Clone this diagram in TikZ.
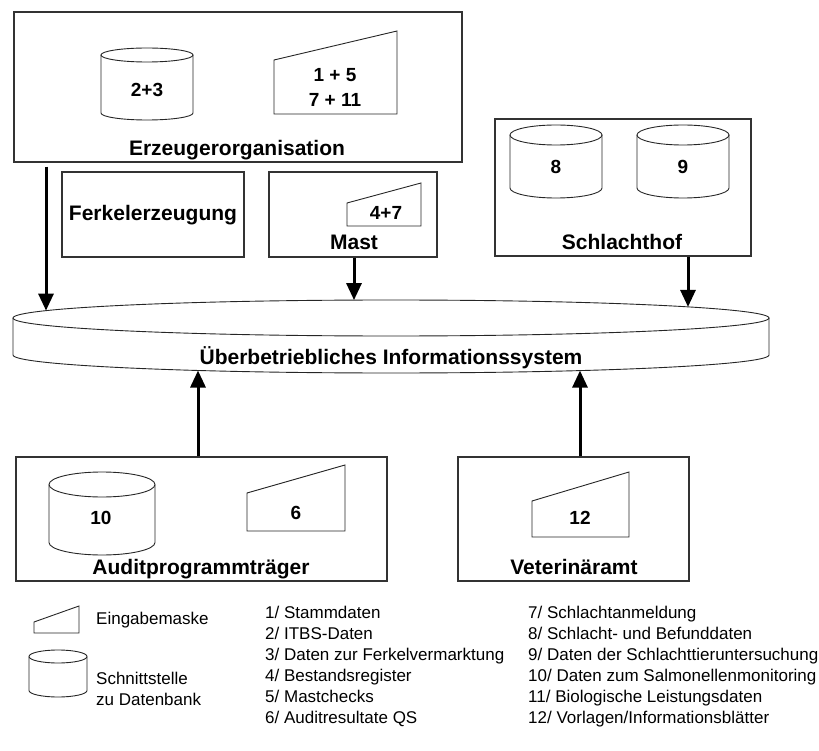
\documentclass[tikz,border=0pt]{standalone}
\usepackage{fontspec}
\setmainfont{Liberation Sans}
\usetikzlibrary{arrows.meta}
\tikzset{
  box/.style={draw=black!80, line width=1.2pt, rectangle, inner sep=0pt},
  shp/.style={draw=black!85, line width=0.9pt},
  lbl/.style={inner sep=0pt, text height=15pt, text depth=0pt, font=\fontsize{21}{25}\selectfont\bfseries},
  num/.style={inner sep=0pt, text height=13.6pt, text depth=0pt, align=center, font=\fontsize{19}{25}\selectfont\bfseries},
  leg/.style={inner sep=0pt, text height=12.2pt, text depth=0pt, anchor=west, font=\fontsize{17}{21}\selectfont},
  arr/.style={line width=3pt, -{Triangle[width=15pt,length=17pt]}}
}
\newcommand{\cyl}[5]{% left, right, top-centre y, bottom-centre y, ry
  \draw[shp, fill=white] ({#1},{#3}) -- ({#1},{#4}) arc[start angle=180, end angle=0, x radius={(#2-#1)/2}, y radius=#5] -- ({#2},{#3});
  \draw[shp] ({(#1+#2)/2},{#3}) ellipse[x radius={(#2-#1)/2}, y radius=#5];
}
\begin{document}
\begin{tikzpicture}[x=1pt, y=-1pt]
\useasboundingbox (0,0) rectangle (819,751);

% boxes
\node[box, minimum width=448pt, minimum height=150pt] (erz) at (238,87) {};
\node[box, minimum width=182pt, minimum height=85pt] (ferk) at (153,214.5) {};
\node[box, minimum width=168pt, minimum height=85pt] (mast) at (353,214.5) {};
\node[box, minimum width=256pt, minimum height=137pt] (schl) at (623,187.5) {};
\node[box, minimum width=371pt, minimum height=124pt] (audit) at (201.5,519) {};
\node[box, minimum width=231pt, minimum height=124pt] (vet) at (573.5,519) {};

% box labels
\node[lbl] (erzl) at (237,148) {Erzeugerorganisation};
\node[lbl] (ferkl) at (153,213) {Ferkelerzeugung};
\node[lbl] (mastl) at (354,242) {Mast};
\node[lbl] (schll) at (622,242) {Schlachthof};
\node[lbl] (auditl) at (201,567) {Auditprogrammträger};
\node[lbl] (vetl) at (574,567) {Veterinäramt};

% Erzeugerorganisation contents
\cyl{101}{193}{55}{113}{7}
\node[num] (n23) at (147,90) {2+3};
\draw[shp] (274,60) -- (397,31) -- (397,114) -- (274,114) -- cycle;
\node[num] (n15) at (335,75) {1 + 5};
\node[num] (n711) at (335,100) {7 + 11};

% Mast contents
\draw[shp] (347,203) -- (421,183) -- (421,226) -- (347,226) -- cycle;
\node[num] (n47) at (386,213) {4+7};

% Schlachthof contents
\cyl{510}{602}{135}{188}{10}
\node[num] (n8) at (556,167) {8};
\cyl{637}{729}{135}{188}{10}
\node[num] (n9) at (683,167) {9};

% Auditprogrammtraeger contents
\cyl{49}{155}{484.5}{542.5}{12.5}
\node[num] (n10) at (101,518) {10};
\draw[shp] (247,493) -- (345,465) -- (345,531) -- (247,531) -- cycle;
\node[num] (n6) at (296,513) {6};

% Veterinaeramt contents
\draw[shp] (532,501) -- (629,472) -- (629,537) -- (532,537) -- cycle;
\node[num] (n12) at (580,518) {12};

% information system disc
\draw[shp, fill=white] (13,318) -- (13,355) arc[start angle=180, end angle=0, x radius=378, y radius=18] -- (769,318);
\draw[shp] (391,318) ellipse[x radius=378, y radius=18];
\node[lbl] (ibis) at (391,357) {Überbetriebliches Informationssystem};

% connector end points on the disc
\coordinate (isL) at (46,310.6);
\coordinate (isM) at (354,300.1);
\coordinate (isS) at (688,306.9);
\coordinate (isA) at (198,370.5);
\coordinate (isV) at (580,370.6);

\draw[arr] ([yshift=-4pt]erz.south -| isL) -- (isL);
\draw[arr] (mast.south -| isM) -- (isM);
\draw[arr] (schl.south -| isS) -- (isS);
\draw[arr] (audit.north -| isA) -- (isA);
\draw[arr] (vet.north -| isV) -- (isV);

% legend
\draw[shp] (34,622) -- (79,606) -- (79,633) -- (34,633) -- cycle;
\node[leg] (lg1) at (96,618) {Eingabemaske};
\cyl{29}{87}{656.5}{690.5}{6.5}
\node[leg] (lg2) at (96,678) {Schnittstelle};
\node[leg] (lg3) at (96,699) {zu Datenbank};

\node[leg] (l1) at (265,612) {1/ Stammdaten};
\node[leg] (l2) at (265,633) {2/ ITBS-Daten};
\node[leg] (l3) at (265,654) {3/ Daten zur Ferkelvermarktung};
\node[leg] (l4) at (265,675) {4/ Bestandsregister};
\node[leg] (l5) at (265,696) {5/ Mastchecks};
\node[leg] (l6) at (265,717) {6/ Auditresultate QS};

\node[leg] (l7) at (528,612) {7/ Schlachtanmeldung};
\node[leg] (l8) at (528,633) {8/ Schlacht- und Befunddaten};
\node[leg] (l9) at (528,654) {9/ Daten der Schlachttieruntersuchung};
\node[leg] (l10) at (528,675) {10/ Daten zum Salmonellenmonitoring};
\node[leg] (l11) at (528,696) {11/ Biologische Leistungsdaten};
\node[leg] (l12) at (528,717) {12/ Vorlagen/Informationsblätter};
\end{tikzpicture}
\end{document}
